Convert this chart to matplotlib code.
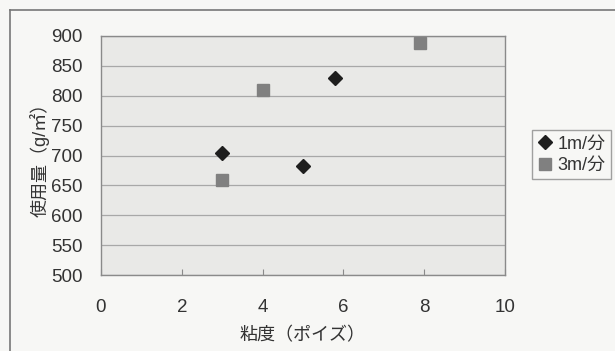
import matplotlib.pyplot as plt
from matplotlib.lines import Line2D

plt.rcParams['font.family'] = ['Liberation Sans', 'Noto Sans CJK JP', 'DejaVu Sans']

# 粘度 (ポイズ) / 使用量 (g/㎡)
x_1m = [3.0, 5.0, 5.8]
y_1m = [705, 683, 830]
x_3m = [3.0, 4.0, 7.9]
y_3m = [659, 810, 888]
series_names = ['1m/分', '3m/分']

fig = plt.figure(figsize=(6.15, 3.51), dpi=100)
fig.patch.set_facecolor('#f7f7f5')

# outer chart frame (only top and left edges are visible)
fig.add_artist(Line2D([10/615, 10/615], [0, 1 - 10/351], color='#777777', lw=1.2))
fig.add_artist(Line2D([10/615, 1], [1 - 10/351, 1 - 10/351], color='#777777', lw=1.2))

ax = fig.add_axes([101/615, 1 - 275/351, 404/615, 239/351])
ax.set_facecolor('#e9e9e7')

ax.plot(x_1m, y_1m, 'D', color='#1e1e1e', markersize=7, label=series_names[0], linestyle='none')
ax.plot(x_3m, y_3m, 's', color='#808080', markersize=8, label=series_names[1], linestyle='none')

ax.set_xlim(0, 10)
ax.set_ylim(500, 900)
ax.set_xticks(range(0, 11, 2))
ax.set_yticks(range(500, 901, 50))
ax.grid(axis='y', color='#a8a8a8', lw=0.9)
ax.set_axisbelow(True)
for s in ax.spines.values():
    s.set_color('#8a8a8a')
    s.set_linewidth(1.0)

ax.tick_params(axis='x', direction='in', length=4, color='#8a8a8a', pad=17, labelsize=13.5, labelcolor='#333333')
ax.tick_params(axis='y', length=0, pad=13, labelsize=13.5, labelcolor='#333333')

ax.set_xlabel('粘度（ポイズ）', fontsize=13, color='#333333', labelpad=8)
ax.set_ylabel('使用量（g/㎡）', fontsize=13, color='#333333', labelpad=1)

leg = fig.legend(loc='upper left', bbox_to_anchor=(532/615, 1 - 130/351), fontsize=13,
                 frameon=True, fancybox=False, handlelength=0.8, handletextpad=0.3,
                 borderpad=0.3, labelspacing=0.25, borderaxespad=0)
leg.get_frame().set_edgecolor('#8a8a8a')
leg.get_frame().set_facecolor('#f7f7f5')
for t in leg.get_texts():
    t.set_color('#333333')

fig.savefig('out.png', dpi=100, facecolor=fig.get_facecolor())
